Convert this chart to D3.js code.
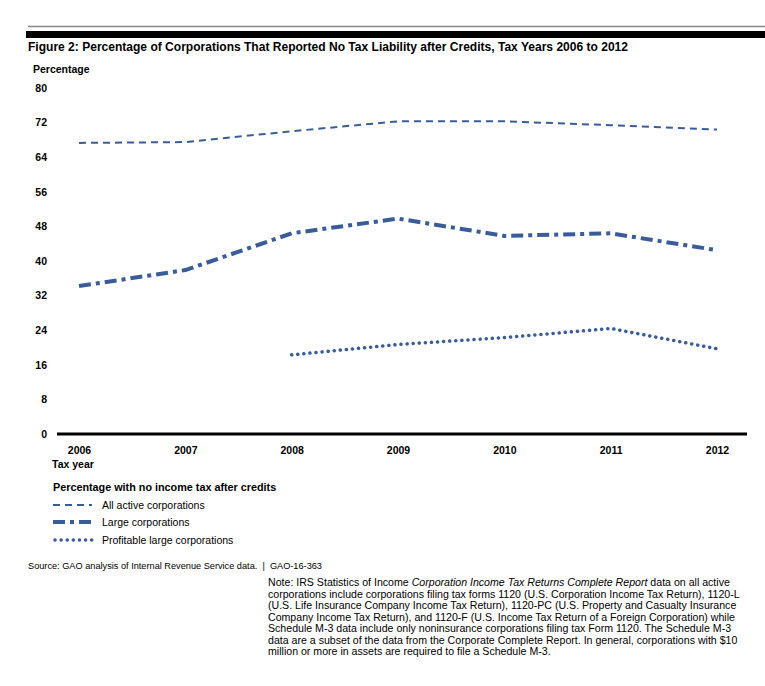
<!DOCTYPE html>
<html>
<head>
<meta charset="utf-8">
<script src="https://cdn.jsdelivr.net/npm/d3@7"></script>
<style>
  body { margin: 0; background: #fff; }
  text { font-family: "Liberation Sans", Arial, sans-serif; fill: #000; }
  .tick text { font-weight: bold; font-size: 10.5px; }
</style>
</head>
<body>
<div id="chart"></div>
<script>
// data
const years = [2006, 2007, 2008, 2009, 2010, 2011, 2012];
const allActive = [67.3, 67.5, 70.0, 72.3, 72.3, 71.4, 70.4];
const largeCorps = [34.2, 37.9, 46.4, 49.8, 45.8, 46.4, 42.5];
const profitableLarge = [null, null, 18.3, 20.7, 22.3, 24.4, 19.7];
const yTicks = [0, 8, 16, 24, 32, 40, 48, 56, 64, 72, 80];

const seriesNames = ["All active corporations", "Large corporations", "Profitable large corporations"];
const seriesDash = ["7,5", "12,5,4,5", "0.1,6"];
const seriesWidth = [2, 4, 3.5];
const lineColor = "#3a5c9a";

const noteLines = [
  ["Note: IRS Statistics of Income ", "Corporation Income Tax Returns Complete Report", " data on all active"],
  ["corporations include corporations filing tax forms 1120 (U.S. Corporation Income Tax Return), 1120-L"],
  ["(U.S. Life Insurance Company Income Tax Return), 1120-PC (U.S. Property and Casualty Insurance"],
  ["Company Income Tax Return), and 1120-F (U.S. Income Tax Return of a Foreign Corporation) while"],
  ["Schedule M-3 data include only noninsurance corporations filing tax Form 1120. The Schedule M-3"],
  ["data are a subset of the data from the Corporate Complete Report. In general, corporations with $10"],
  ["million or more in assets are required to file a Schedule M-3."]
];

const svgWidth = 765;
const svgHeight = 686;

const svg = d3.select("#chart")
  .append("svg")
  .attr("width", svgWidth)
  .attr("height", svgHeight);

// header rules
svg.append("line")
  .attr("x1", 28).attr("x2", 765).attr("y1", 26.5).attr("y2", 26.5)
  .attr("stroke", "#888").attr("stroke-width", 1.5);
svg.append("rect")
  .attr("x", 26).attr("y", 31).attr("width", 739).attr("height", 7)
  .attr("fill", "#000");

svg.append("text")
  .attr("x", 28).attr("y", 51)
  .attr("font-weight", "bold")
  .attr("font-size", "12.5px")
  .attr("textLength", 600)
  .attr("lengthAdjust", "spacingAndGlyphs")
  .text("Figure 2: Percentage of Corporations That Reported No Tax Liability after Credits, Tax Years 2006 to 2012");

svg.append("text")
  .attr("x", 33).attr("y", 73)
  .attr("font-weight", "bold").attr("font-size", "10.5px")
  .text("Percentage");

// scales
const x = d3.scalePoint()
  .domain(years)
  .range([79, 717]);

const y = d3.scaleLinear()
  .domain([0, 80])
  .range([434, 88]);

// y axis (labels only)
const yAxis = svg.append("g")
  .attr("transform", "translate(47,0)")
  .call(d3.axisLeft(y).tickValues(yTicks).tickSize(0).tickPadding(0));
yAxis.select(".domain").remove();

// x axis
const xAxis = svg.append("g")
  .attr("transform", `translate(0, ${y(0)})`)
  .call(d3.axisBottom(x).tickSize(0).tickPadding(13));
xAxis.select(".domain").remove();
svg.append("line")
  .attr("x1", 57).attr("x2", 747)
  .attr("y1", y(0)).attr("y2", y(0))
  .attr("stroke", "#000").attr("stroke-width", 3);

svg.append("text")
  .attr("x", 52).attr("y", 468)
  .attr("font-weight", "bold").attr("font-size", "10.5px")
  .text("Tax year");

// lines
const allSeries = [allActive, largeCorps, profitableLarge];
const lineGen = d3.line()
  .defined(d => d.v !== null)
  .x(d => x(d.year))
  .y(d => y(d.v));

allSeries.forEach((vals, i) => {
  const pts = years.map((yr, j) => ({year: yr, v: vals[j]}));
  svg.append("path")
    .datum(pts)
    .attr("d", lineGen)
    .attr("fill", "none")
    .attr("stroke", lineColor)
    .attr("stroke-width", seriesWidth[i])
    .attr("stroke-dasharray", seriesDash[i])
    .attr("stroke-linejoin", "round")
    .attr("stroke-linecap", i === 2 ? "round" : "butt");
});

// legend
svg.append("text")
  .attr("x", 53).attr("y", 491)
  .attr("font-weight", "bold").attr("font-size", "10.8px")
  .text("Percentage with no income tax after credits");

const legendY = [505, 522, 540];
seriesNames.forEach((name, i) => {
  svg.append("line")
    .attr("x1", i === 2 ? 55 : 53).attr("x2", 92)
    .attr("y1", legendY[i]).attr("y2", legendY[i])
    .attr("stroke", lineColor)
    .attr("stroke-width", seriesWidth[i])
    .attr("stroke-dasharray", seriesDash[i])
    .attr("stroke-linecap", i === 2 ? "round" : "butt");
  svg.append("text")
    .attr("x", 102).attr("y", legendY[i] + 4)
    .attr("font-size", "10.5px")
    .text(name);
});

// source
svg.append("text")
  .attr("x", 28).attr("y", 569)
  .attr("font-size", "9.2px")
  .attr("fill", "#222")
  .attr("xml:space", "preserve")
  .text("Source: GAO analysis of Internal Revenue Service data.  |  GAO-16-363");

// note
const note = svg.append("text")
  .attr("font-size", "10.6px");
noteLines.forEach((parts, i) => {
  const line = note.append("tspan")
    .attr("x", 268)
    .attr("y", 586 + i * 11.5);
  parts.forEach((p, k) => {
    const t = k === 0 ? line : note.append("tspan");
    if (k === 0) line.text(p);
    else t.attr("font-style", k === 1 ? "italic" : "normal").text(p);
  });
});
</script>
</body>
</html>
